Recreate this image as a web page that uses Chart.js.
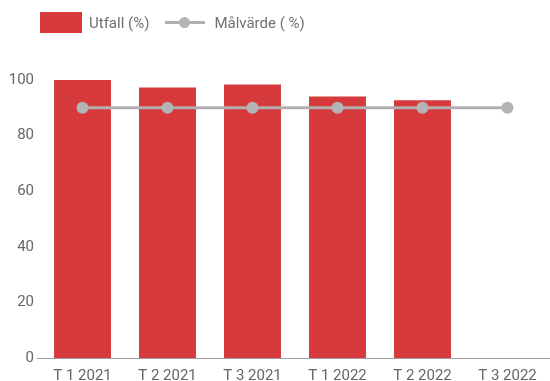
<!DOCTYPE html>
<html>
<head>
<meta charset="utf-8">
<script src="https://cdn.jsdelivr.net/npm/chart.js@4"></script>
<style>
  html, body { margin: 0; padding: 0; background: #fff; overflow: hidden; }
  #wrap { position: relative; width: 550px; height: 381px; }
  #legend { position: absolute; left: 40px; top: 12px; height: 21px; font: 15px Roboto, sans-serif; color: #707070; display: flex; align-items: center; }
  #legend .box { width: 42px; height: 21px; background: #d63a3c; margin-right: 7px; }
  #legend .mark { position: relative; width: 40px; height: 21px; margin: 0 9px 0 16px; }
  #legend .mark .ln { position: absolute; left: 0; right: 0; top: 9px; height: 3px; background: #b0b0b0; }
  #legend .mark .pt { position: absolute; left: 14px; top: 5px; width: 11px; height: 11px; border-radius: 50%; background: #b3b5b5; }
</style>
</head>
<body>
<div id="wrap">
  <div id="legend">
    <span class="box"></span><span>Utfall (%)</span>
    <span class="mark"><span class="ln"></span><span class="pt"></span></span><span>Målvärde ( %)</span>
  </div>
  <canvas id="myChart" width="550" height="381"></canvas>
</div>
<script>
// kategorier och värden
var labels = ["T 1 2021", "T 2 2021", "T 3 2021", "T 1 2022", "T 2 2022", "T 3 2022"];
var utfall = [100, 97.3, 98.4, 94.1, 92.7, null];
var malvarde = [90, 90, 90, 90, 90, 90];
var yTicks = [0, 20, 40, 60, 80, 100];

var ctx = document.getElementById("myChart");

var myChart = new Chart(ctx, {
  type: 'bar',
  data: {
    labels: labels,
    datasets: [
      {
        type: 'line',
        label: "Målvärde ( %)",
        data: malvarde,
        borderColor: "#b0b0b0",
        borderWidth: 3,
        pointRadius: 6,
        pointBackgroundColor: "#b3b5b5",
        pointBorderColor: "#b3b5b5",
        pointBorderWidth: 0,
        fill: false,
        clip: false,
        order: 0
      },
      {
        label: "Utfall (%)",
        data: utfall,
        backgroundColor: "#d63a3c",
        categoryPercentage: 0.67,
        barPercentage: 1.0,
        order: 1
      }
    ]
  },
  options: {
    responsive: false,
    animation: false,
    layout: { autoPadding: false, padding: { top: 80, left: 0, right: 0, bottom: 0 } },
    plugins: {
      legend: { display: false },
      tooltip: { enabled: false }
    },
    scales: {
      x: {
        grid: { display: false },
        border: { display: true, color: "#9e9e9e", width: 1 },
        ticks: { color: "#666", font: { family: "Roboto", size: 15 }, padding: 1, maxRotation: 0 },
        afterFit: function (scale) {
          scale.height = 23;
          scale.paddingLeft = 0;
          scale.paddingRight = 0;
        }
      },
      y: {
        min: 0,
        max: 100,
        grid: { display: false, drawTicks: false },
        border: { display: false },
        afterBuildTicks: function (scale) {
          scale.ticks = yTicks.map(function (v) { return { value: v }; });
        },
        ticks: { color: "#666", font: { family: "Roboto", size: 15 }, padding: 6 },
        afterFit: function (scale) {
          scale.width = 40;
          scale.paddingTop = 0;
          scale.paddingBottom = 0;
        }
      }
    }
  },
  plugins: [{
    // liten förlängning av x-axeln åt vänster
    id: 'axisStub',
    afterDraw: function (chart) {
      var c = chart.ctx, a = chart.chartArea;
      c.save();
      c.strokeStyle = "#9e9e9e";
      c.lineWidth = 1;
      c.beginPath();
      c.moveTo(a.left - 3, a.bottom + 0.5);
      c.lineTo(a.left, a.bottom + 0.5);
      c.stroke();
      c.restore();
    }
  }]
});
</script>
</body>
</html>
